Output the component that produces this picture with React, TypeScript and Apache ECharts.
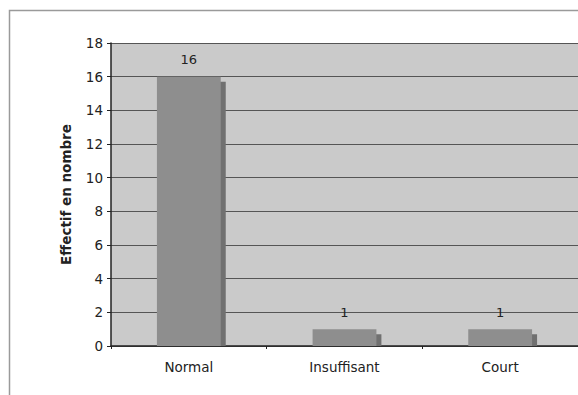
import React, { useEffect, useRef } from "react";
import * as echarts from "echarts";

const categories = ["Normal", "Insuffisant", "Court"];
const values = [16, 1, 1];
const yTicks = { min: 0, max: 18, interval: 2 };
const yTitle = "Effectif en nombre";

export default function App() {
  const ref = useRef<HTMLDivElement>(null);
  useEffect(() => {
    if (!ref.current) return;
    const chart = echarts.init(ref.current, null, { renderer: "svg" });
    const font = "'DejaVu Sans', Verdana, sans-serif";
    chart.setOption({
      animation: false,
      backgroundColor: "#ffffff",
      graphic: [
        {
          type: "rect",
          z: -10,
          silent: true,
          shape: { x: 9.5, y: 10.5, width: 620, height: 420 },
          style: { fill: "none", stroke: "#9a9a9a", lineWidth: 1.5 },
        },
      ],
      grid: {
        left: 111,
        top: 43,
        bottom: 49,
        right: -4,
        show: true,
        backgroundColor: "#cacaca",
        borderWidth: 0,
      },
      xAxis: {
        type: "category",
        data: categories,
        axisLine: { show: true, lineStyle: { color: "#222", width: 1.5 } },
        axisTick: { show: true, length: 3, alignWithLabel: false, lineStyle: { color: "#222" } },
        axisLabel: { color: "#222", fontFamily: font, fontSize: 13.5, margin: 14 },
        splitLine: { show: false },
      },
      yAxis: {
        type: "value",
        min: yTicks.min,
        max: yTicks.max,
        interval: yTicks.interval,
        name: yTitle,
        nameLocation: "middle",
        nameGap: 38,
        nameRotate: 90,
        nameTextStyle: { fontFamily: font, fontSize: 13.5, fontWeight: "bold", color: "#222" },
        axisLine: { show: true, lineStyle: { color: "#222", width: 1.5 } },
        axisTick: { show: true, inside: false, length: 4, lineStyle: { color: "#222" } },
        axisLabel: { color: "#222", fontFamily: font, fontSize: 13.5, margin: 8 },
        splitLine: { show: true, lineStyle: { color: "#555", width: 1 } },
      },
      series: [
        {
          type: "custom",
          data: values.map((v, i) => [i, v]),
          renderItem: (params: any, api: any) => {
            const x = api.value(0);
            const v = api.value(1);
            const top = api.coord([x, v]);
            const base = api.coord([x, 0]);
            const bw = api.size([1, 0])[0] * 0.41;
            const left = top[0] - bw / 2;
            const off = 5;
            return {
              type: "group",
              children: [
                {
                  type: "rect",
                  shape: { x: left + off, y: top[1] + off, width: bw, height: Math.max(0, base[1] - top[1] - off) },
                  style: { fill: "#707070" },
                },
                {
                  type: "rect",
                  shape: { x: left, y: top[1], width: bw, height: base[1] - top[1] },
                  style: { fill: "#8e8e8e" },
                },
                {
                  type: "text",
                  x: top[0],
                  y: top[1] - 17,
                  style: {
                    text: String(v),
                    fontFamily: font,
                    fontSize: 13,
                    fill: "#222",
                    align: "center",
                    verticalAlign: "middle",
                  },
                },
              ],
            };
          },
        },
      ],
    });
    return () => chart.dispose();
  }, []);
  return (
    <div
      ref={ref}
      style={{ position: "absolute", left: 0, top: 0, width: 578, height: 395 }}
    />
  );
}
